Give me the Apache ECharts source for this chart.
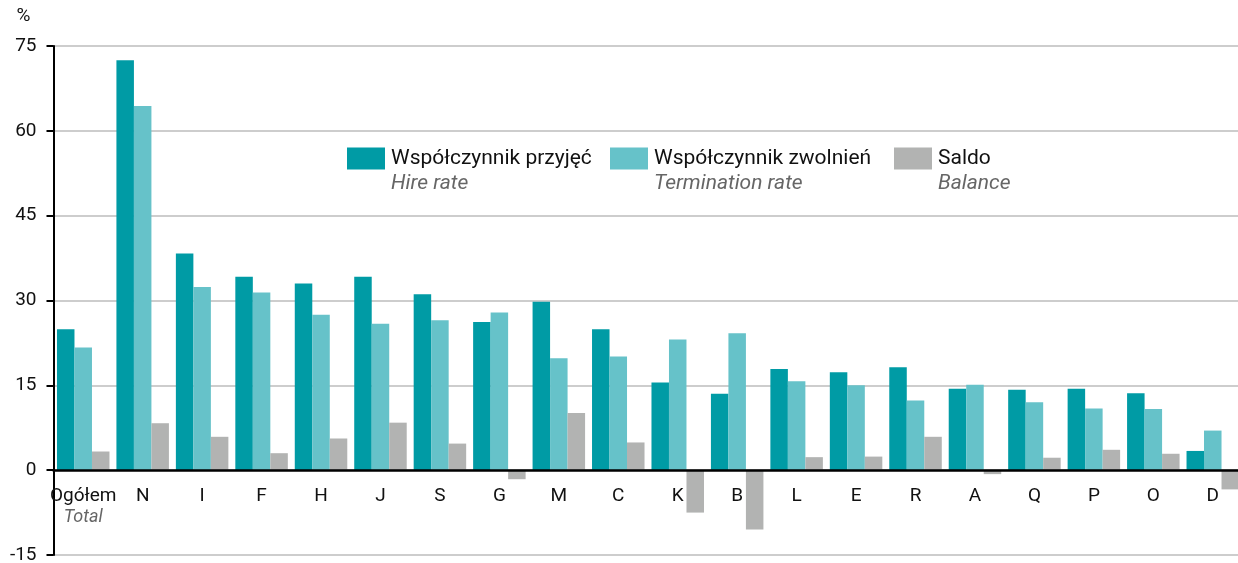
<!DOCTYPE html>
<html>
<head>
<meta charset="utf-8">
<script src="https://cdn.jsdelivr.net/npm/echarts@6/dist/echarts.min.js"></script>
<style>
html,body{margin:0;padding:0;background:#fff;}
#chart{width:1238px;height:563px;}
</style>
</head>
<body>
<div id="chart"></div>
<script>
const categories = ['Ogółem','N','I','F','H','J','S','G','M','C','K','B','L','E','R','A','Q','P','O','D'];
const categoriesEn = {'Ogółem':'Total'};
const hireRate = [24.9,72.5,38.3,34.2,33.0,34.2,31.1,26.2,29.8,24.9,15.5,13.5,17.9,17.3,18.2,14.4,14.2,14.4,13.6,3.4];
const terminationRate = [21.7,64.4,32.4,31.4,27.5,25.9,26.5,27.9,19.8,20.1,23.1,24.2,15.7,15.0,12.3,15.1,12.0,10.9,10.8,7.0];
const balance = [3.3,8.3,5.9,3.0,5.6,8.4,4.7,-1.6,10.1,4.9,-7.5,-10.5,2.3,2.4,5.9,-0.7,2.2,3.6,2.9,-3.4];
const seriesNames = ['Współczynnik przyjęć','Współczynnik zwolnień','Saldo'];
const seriesNamesEn = ['Hire rate','Termination rate','Balance'];
const yTicks = {min:-15, max:75, interval:15};

const FONT = 'Roboto';
const colors = ['#009BA5','#66C2C9','#B2B3B2'];

const chart = echarts.init(document.getElementById('chart'), null, {renderer:'canvas'});

function legendFor(i, left){
  return {
    data:[seriesNames[i]],
    left:left, top:121,
    padding:0,
    itemWidth:38, itemHeight:22, itemGap:0,
    icon:'rect',
    selectedMode:false,
    textStyle:{fontFamily:FONT, fontSize:21, color:'#111', lineHeight:25, padding:[0,0,0,1],
      rich:{
        a:{fontFamily:FONT, fontSize:21, color:'#111', lineHeight:25},
        b:{fontFamily:FONT, fontSize:21, fontStyle:'italic', color:'#666', lineHeight:25}
      }},
    formatter:function(name){ return ' \n{a|' + name + '}\n{b|' + seriesNamesEn[seriesNames.indexOf(name)] + '}'; }
  };
}

const option = {
  backgroundColor:'#fff',
  animation:false,
  color:colors,
  textStyle:{fontFamily:FONT},
  grid:{left:53.5, width:1189, top:46, bottom:8, containLabel:false, outerBoundsMode:'none'},
  legend:[legendFor(0,347), legendFor(1,610), legendFor(2,894)],
  xAxis:{
    type:'category',
    data:categories,
    axisLine:{onZero:true, lineStyle:{color:'#000', width:2.5}},
    axisTick:{show:false},
    axisLabel:{
      interval:0, margin:-69, fontFamily:FONT, fontSize:19, color:'#111', lineHeight:21,
      formatter:function(v){ return categoriesEn[v] ? '{a|'+v+'}\n{b|'+categoriesEn[v]+'}' : v; },
      rich:{
        a:{fontFamily:FONT, fontSize:19, color:'#111', lineHeight:21},
        b:{fontFamily:FONT, fontSize:18, fontStyle:'italic', color:'#666', lineHeight:21}
      }
    },
    z:5
  },
  yAxis:{
    type:'value',
    min:yTicks.min, max:yTicks.max, interval:yTicks.interval,
    name:'%',
    nameLocation:'end',
    nameGap:20,
    nameTextStyle:{fontFamily:FONT, fontSize:19, color:'#111', align:'right', padding:[0,23,0,0]},
    axisLine:{show:true, lineStyle:{color:'#000', width:2}},
    axisTick:{show:true, length:7, lineStyle:{color:'#000', width:2}},
    axisLabel:{margin:17, fontFamily:FONT, fontSize:19, color:'#111'},
    splitLine:{show:true, lineStyle:{color:'#BDBDBD', width:1.5}}
  },
  series:[
    {name:seriesNames[0], type:'bar', data:hireRate, barWidth:17.5, barGap:'0%', itemStyle:{color:colors[0]}},
    {name:seriesNames[1], type:'bar', data:terminationRate, barWidth:17.5, barGap:'0%', itemStyle:{color:colors[1]}},
    {name:seriesNames[2], type:'bar', data:balance, barWidth:17.5, barGap:'0%', itemStyle:{color:colors[2]}}
  ]
};
chart.setOption(option);
</script>
</body>
</html>
